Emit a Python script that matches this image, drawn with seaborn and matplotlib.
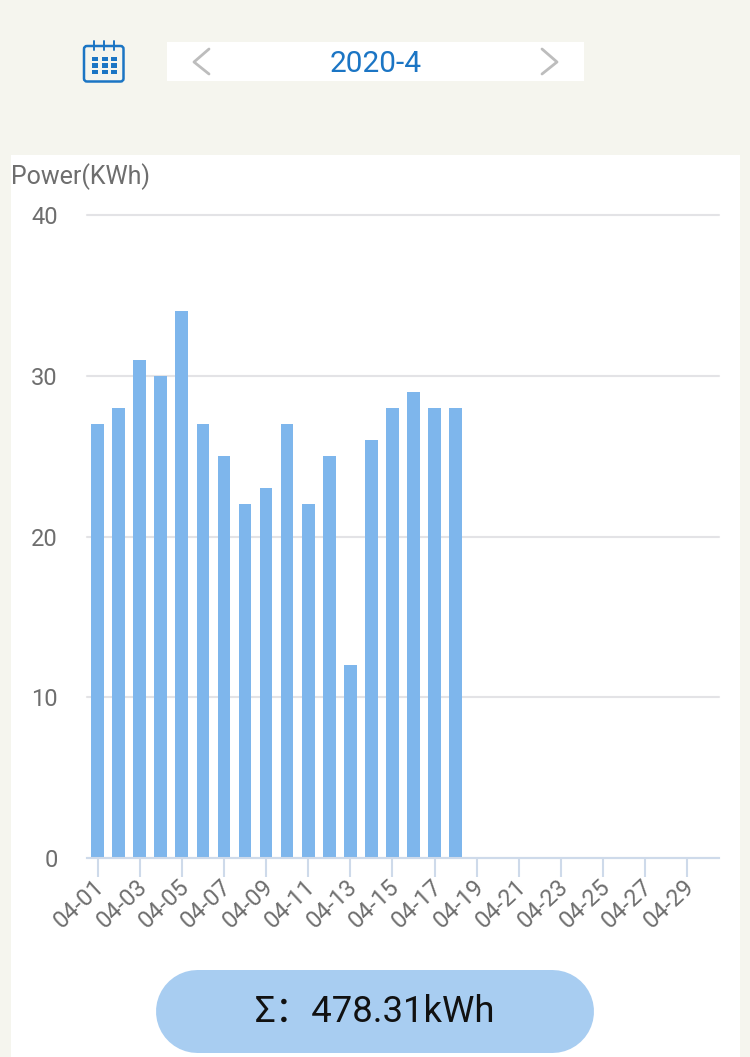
import pandas as pd
import numpy as np
import matplotlib
matplotlib.use('Agg')
import matplotlib.pyplot as plt
from matplotlib.patches import FancyBboxPatch, Rectangle
from matplotlib.transforms import ScaledTranslation
import seaborn as sns

# Data
days = [f'04-{d:02d}' for d in range(1, 31)]
power = [27, 28, 31, 30, 34, 27, 25, 22, 23, 27, 22, 25, 12, 26, 28, 29, 28, 28]
y_ticks = [0, 10, 20, 30, 40]
month_label = '2020-4'
total_label = 'Σ：478.31kWh'
y_title = 'Power(KWh)'

df = pd.DataFrame({'day': days, 'power': power + [np.nan] * (len(days) - len(power))})

sns.set_theme(style='white')
plt.rcParams['font.family'] = ['Roboto', 'Noto Sans CJK SC', 'DejaVu Sans']

W, H = 750, 1057
bg = '#F5F5EE'
fig = plt.figure(figsize=(W / 100, H / 100), dpi=100, facecolor=bg)

# Page furniture, in pixel coordinates
page = fig.add_axes([0, 0, 1, 1], zorder=0)
page.set_xlim(0, W)
page.set_ylim(H, 0)
page.axis('off')
page.add_patch(Rectangle((11, 155), 729, 902, fc='white', ec='none'))
page.add_patch(Rectangle((167, 42), 417, 39, fc='white', ec='none'))

# Calendar icon
blue = '#1B75C4'
page.add_patch(FancyBboxPatch((84, 46), 39.5, 35.5, boxstyle='round,pad=0,rounding_size=3',
                              fc='none', ec=blue, lw=1.8))
for x in [94, 104, 114]:
    page.plot([x, x], [41, 50], color=blue, lw=1.4)
for x in [92, 101.5, 111]:
    for y in [56.5, 63, 69.5]:
        page.add_patch(Rectangle((x, y), 6, 4.5, fc=blue, ec='none'))

# Month selector arrows
page.plot([209, 194, 209], [49, 62, 74], color='#BDBDBD', lw=2)
page.plot([542, 557, 542], [49, 62, 74], color='#BDBDBD', lw=2)
page.text(375.5, 64.5, month_label, color=blue, fontsize=21.5, ha='center', va='center')

page.text(11, 177, y_title, color='#6E6E6E', fontsize=18, ha='left', va='center')

# Total pill
page.plot([196.5, 551.5], [1010.5, 1010.5], color='#A8CDF1', lw=83 * 0.72, solid_capstyle='round')
page.text(375.5, 1012, total_label, color='#111111', fontsize=26.3, ha='center', va='center')

# Bar chart
ax = fig.add_axes([87 / W, 1 - 858 / H, 632 / W, 643 / H], zorder=1)
ax.patch.set_alpha(0)
sns.barplot(data=df, x='day', y='power', color='#7EB6EC', saturation=1, width=0.6,
            linewidth=0, ax=ax)
ax.set_xlim(-0.5, 29.5)
ax.set_ylim(0, 40)
ax.set_xlabel('')
ax.set_ylabel('')
ax.set_yticks(y_ticks)
ax.grid(axis='y', color='#E3E3E6', lw=1.5, clip_on=False)
ax.set_axisbelow(True)
sns.despine(ax=ax, left=True)
ax.spines['bottom'].set_color('#CEDAEA')
ax.spines['bottom'].set_linewidth(1.5)

ax.set_xticks(range(0, 30, 2))
ax.set_xticklabels(days[::2], rotation=43, ha='right', rotation_mode='anchor',
                   color='#6E6E6E', fontsize=17)
ax.tick_params(axis='x', bottom=True, length=14, width=1.5, color='#CEDAEA', pad=0)
ax.tick_params(axis='y', left=False, labelcolor='#6E6E6E', labelsize=17, pad=15)

# Nudge the date labels so they end right under their ticks
nudge = ScaledTranslation(-4 / 100, 2 / 100, fig.dpi_scale_trans)
for label in ax.get_xticklabels():
    label.set_transform(label.get_transform() + nudge)

fig.savefig('out.png', dpi=100, facecolor=bg)
